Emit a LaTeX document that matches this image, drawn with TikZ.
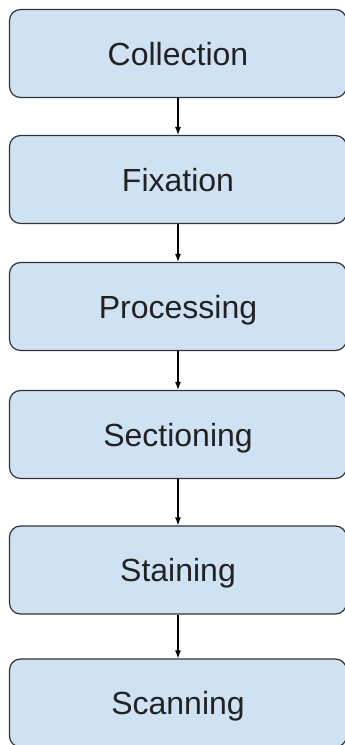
\documentclass[tikz,border=0pt]{standalone}
\usepackage{fontspec}
\setmainfont{Liberation Sans}
\usetikzlibrary{arrows.meta}
\definecolor{stagefill}{HTML}{CFE2F3}
\definecolor{stageline}{HTML}{333333}
\definecolor{stagetext}{HTML}{222222}

\begin{document}
\begin{tikzpicture}[
  x=1pt, y=1pt,
  stage_box/.style={rectangle, rounded corners=11pt, draw=stageline, line width=1.2pt, fill=stagefill, minimum width=337pt, minimum height=88pt, inner sep=0pt, text height=23pt, text depth=0pt, text=stagetext, font=\fontsize{32}{38}\selectfont},
  flow_arrow/.style={-{Latex[length=8pt,width=6pt]}, line width=1.2pt, black},
]
\useasboundingbox (0,0) rectangle (345,-745);
\node (Coll) [stage_box] at (178,-53.5) {Collection};
\node (Fix) [stage_box] at (178,-179.5) {Fixation};
\node (Proc) [stage_box] at (178,-306.5) {Processing};
\node (Sect) [stage_box] at (178,-434.5) {Sectioning};
\node (Stain) [stage_box] at (178,-570) {Staining};
\node (Scan) [stage_box] at (178,-703) {Scanning};
\draw [flow_arrow] (Coll) -- (Fix);
\draw [flow_arrow] (Fix) -- (Proc);
\draw [flow_arrow] (Proc) -- (Sect);
\draw [flow_arrow] (Sect) -- (Stain);
\draw [flow_arrow] (Stain) -- (Scan);
\end{tikzpicture}
\end{document}
